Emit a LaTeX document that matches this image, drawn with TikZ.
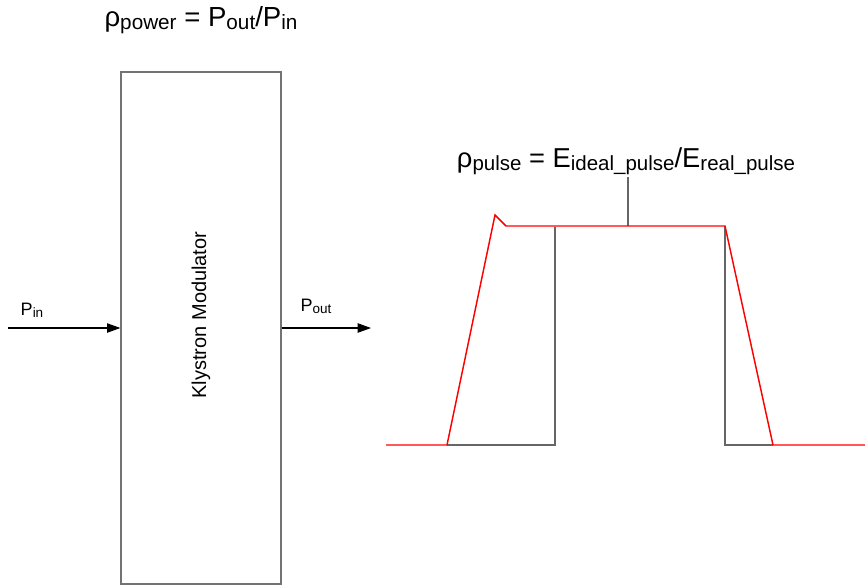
\documentclass[tikz,border=0pt]{standalone}
\usepackage{graphicx}
\usepackage{fontspec}
\setmainfont{Liberation Sans}
\usetikzlibrary{arrows.meta}
\newcommand\lsub[1]{\raisebox{-0.12em}{\scalebox{0.75}{#1}}}
\tikzset{
  frame/.style={draw=black!55, line width=0.9pt},
  flow/.style={draw=black, line width=0.8pt, -{Triangle[length=10pt,width=7pt]}},
  ideal/.style={draw=black!60, line width=1.2pt},
  real/.style={draw=red, line width=1.1pt, line join=miter},
  lbl/.style={inner sep=0pt}
}
\begin{document}
\begin{tikzpicture}[x=0.75pt,y=-0.75pt]
\useasboundingbox (0,0) rectangle (865,586);
% formulas
\node[lbl] (fpow) at (201,20) {\fontsize{20.7}{24}\selectfont ρ\lsub{power} = P\lsub{out}/P\lsub{in}};
\node[lbl] (fpul) at (626,161) {\fontsize{20.5}{24}\selectfont ρ\lsub{pulse} = E\lsub{ideal\_pulse}/E\lsub{real\_pulse}};
% box
\node[frame, minimum width=120pt, minimum height=384pt, inner sep=0pt] (box) at (201,328) {};
\node[lbl, rotate=90] (klab) at (201,315) {\fontsize{15}{18}\selectfont Klystron Modulator};
% arrows
\coordinate (pinS) at (8,328);
\coordinate (poutE) at (371,328);
\draw[flow] (pinS) -- (box.west);
\draw[flow] (box.east) -- (poutE);
\node[lbl] (pin) at (32,310) {\fontsize{13.5}{16}\selectfont P\lsub{in}};
\node[lbl] (pout) at (316,306) {\fontsize{13.5}{16}\selectfont P\lsub{out}};
% pulse
\coordinate (a0) at (386,445);
\coordinate (a1) at (447,445);
\coordinate (a2) at (495,215);
\coordinate (a3) at (506,226);
\coordinate (b1) at (555,445);
\coordinate (b2) at (555,227);
\coordinate (c1) at (725,226);
\coordinate (c2) at (725,445);
\coordinate (c3) at (773,445);
\coordinate (c4) at (865,445);
\coordinate (tick) at (628,226);
\draw[ideal] (a1) -- (b1) -- (b2);
\draw[ideal] (c1) -- (c2) -- (c3);
\draw[draw=black!60, line width=1pt] (fpul.south -| tick) ++(0,2) -- (tick);
\draw[real] (a0) -- (a1) -- (a2) -- (a3) -- (c1) -- (c3) -- (c4);
\end{tikzpicture}
\end{document}
